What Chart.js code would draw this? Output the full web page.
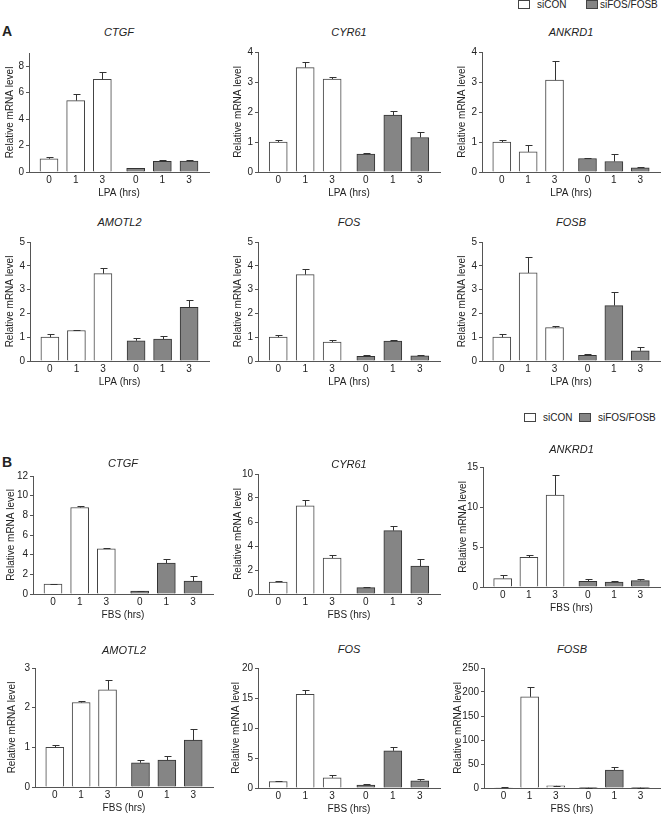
<!DOCTYPE html>
<html>
<head>
<meta charset="utf-8">
<script src="https://cdn.jsdelivr.net/npm/chart.js@4.4.0/dist/chart.umd.min.js"></script>
<style>
  body { margin: 0; background: #fff; }
  #fig { position: relative; width: 665px; height: 814px; font-family: 'Liberation Sans', Arial, sans-serif; color: #222; }
  .box { position: absolute; }
  .title { position: absolute; font-style: italic; font-size: 11px; transform: translate(-50%, -50%); white-space: nowrap; }
  .letter { position: absolute; font-weight: bold; font-size: 14px; line-height: 16px; }
  .sw { position: absolute; width: 10px; height: 7px; border: 1px solid #444; }
  .lt { position: absolute; font-size: 10px; line-height: 12px; white-space: nowrap; }
</style>
</head>
<body>
<div id="fig">
  <div class="letter" style="left:2px;top:23px;">A</div>
  <div class="letter" style="left:2px;top:454px;">B</div>

  <div class="sw" style="left:518px;top:0px;background:#fff;"></div>
  <div class="lt" style="left:537px;top:-1px;">siCON</div>
  <div class="sw" style="left:586px;top:0px;background:#858585;"></div>
  <div class="lt" style="left:600px;top:-1px;">siFOS/FOSB</div>

  <div class="sw" style="left:524px;top:413px;background:#fff;"></div>
  <div class="lt" style="left:543px;top:412px;">siCON</div>
  <div class="sw" style="left:579px;top:413px;background:#858585;"></div>
  <div class="lt" style="left:598px;top:412px;">siFOS/FOSB</div>
</div>
<script>
// time points, shared by both siRNA groups
const timeLabels = ['0', '1', '3'];
const groupGap = 0.25;

// means: siCON 0/1/3 h, then siFOS/FOSB 0/1/3 h
const lpaCTGF = [1.0, 5.4, 7.0, 0.27, 0.8, 0.82];
const lpaCTGFsd = [0.15, 0.5, 0.6, 0.05, 0.12, 0.1];
const lpaCYR61 = [1.0, 3.48, 3.1, 0.6, 1.9, 1.15];
const lpaCYR61sd = [0.07, 0.18, 0.08, 0.04, 0.13, 0.18];
const lpaANKRD1 = [1.0, 0.67, 3.06, 0.45, 0.35, 0.14];
const lpaANKRD1sd = [0.08, 0.22, 0.64, 0.02, 0.25, 0.04];
const lpaAMOTL2 = [1.0, 1.28, 3.67, 0.85, 0.92, 2.25];
const lpaAMOTL2sd = [0.14, 0.02, 0.24, 0.1, 0.15, 0.31];
const lpaFOS = [1.0, 3.63, 0.8, 0.2, 0.84, 0.22];
const lpaFOSsd = [0.1, 0.24, 0.1, 0.04, 0.05, 0.04];
const lpaFOSB = [1.0, 3.7, 1.4, 0.24, 2.33, 0.43];
const lpaFOSBsd = [0.14, 0.65, 0.08, 0.05, 0.57, 0.15];

const fbsCTGF = [1.0, 8.8, 4.6, 0.3, 3.15, 1.32];
const fbsCTGFsd = [0.02, 0.12, 0.08, 0.05, 0.44, 0.5];
const fbsCYR61 = [1.0, 7.35, 3.0, 0.53, 5.28, 2.32];
const fbsCYR61sd = [0.05, 0.5, 0.22, 0.03, 0.4, 0.6];
const fbsANKRD1 = [1.05, 3.7, 11.5, 0.7, 0.6, 0.8];
const fbsANKRD1sd = [0.45, 0.3, 2.5, 0.35, 0.2, 0.25];
const fbsAMOTL2 = [1.0, 2.13, 2.45, 0.61, 0.68, 1.18];
const fbsAMOTL2sd = [0.07, 0.03, 0.24, 0.06, 0.11, 0.28];
const fbsFOS = [1.05, 15.6, 1.7, 0.5, 6.2, 1.2];
const fbsFOSsd = [0.2, 0.8, 0.5, 0.1, 0.6, 0.3];
const fbsFOSB = [1.0, 190, 4.5, 0.6, 37.5, 0.8];
const fbsFOSBsd = [0.5, 21, 0.5, 0.2, 6.5, 0.2];

// box = plot area [left, right, top, bottom] in page px
const panels = [
  { gene: 'CTGF', mean: lpaCTGF, sd: lpaCTGFsd, xTitle: 'LPA (hrs)', box: [29, 209, 53, 172], yMax: 9, yStep: 2, yOff: 19, ty: 32 },
  { gene: 'CYR61', mean: lpaCYR61, sd: lpaCYR61sd, xTitle: 'LPA (hrs)', box: [258, 440, 52, 172], yMax: 4, yStep: 1, yOff: 20, ty: 32 },
  { gene: 'ANKRD1', mean: lpaANKRD1, sd: lpaANKRD1sd, xTitle: 'LPA (hrs)', box: [482, 660, 52, 172], yMax: 4, yStep: 1, yOff: 20, ty: 32 },
  { gene: 'AMOTL2', mean: lpaAMOTL2, sd: lpaAMOTL2sd, xTitle: 'LPA (hrs)', box: [30, 209, 242, 361], yMax: 5, yStep: 1, yOff: 20, ty: 222 },
  { gene: 'FOS', mean: lpaFOS, sd: lpaFOSsd, xTitle: 'LPA (hrs)', box: [258, 440, 242, 361], yMax: 5, yStep: 1, yOff: 20, ty: 222 },
  { gene: 'FOSB', mean: lpaFOSB, sd: lpaFOSBsd, xTitle: 'LPA (hrs)', box: [482, 660, 242, 361], yMax: 5, yStep: 1, yOff: 20, ty: 222 },
  { gene: 'CTGF', mean: fbsCTGF, sd: fbsCTGFsd, xTitle: 'FBS (hrs)', box: [33, 213, 476, 594], yMax: 12, yStep: 2, yOff: 22, ty: 463 },
  { gene: 'CYR61', mean: fbsCYR61, sd: fbsCYR61sd, xTitle: 'FBS (hrs)', box: [258, 440, 474, 594], yMax: 10, yStep: 2, yOff: 20, ty: 464 },
  { gene: 'ANKRD1', mean: fbsANKRD1, sd: fbsANKRD1sd, xTitle: 'FBS (hrs)', box: [483, 660, 467, 587], yMax: 15, yStep: 5, yOff: 20, ty: 449 },
  { gene: 'AMOTL2', mean: fbsAMOTL2, sd: fbsAMOTL2sd, xTitle: 'FBS (hrs)', box: [35, 213, 668, 787], yMax: 3, yStep: 1, yOff: 23, ty: 650 },
  { gene: 'FOS', mean: fbsFOS, sd: fbsFOSsd, xTitle: 'FBS (hrs)', box: [258, 440, 668, 788], yMax: 20, yStep: 5, yOff: 22, ty: 649 },
  { gene: 'FOSB', mean: fbsFOSB, sd: fbsFOSBsd, xTitle: 'FBS (hrs)', box: [484, 660, 668, 788], yMax: 250, yStep: 50, yOff: 26, ty: 649 }
];

Chart.defaults.font.family = "'Liberation Sans', Arial, sans-serif";
Chart.defaults.font.size = 10;
Chart.defaults.color = '#222';

// upper SD whiskers with a small cap
const errorBars = {
  id: 'errorBars',
  afterDatasetsDraw(chart) {
    const ctx = chart.ctx;
    const yScale = chart.scales.y;
    ctx.save();
    ctx.strokeStyle = '#333';
    ctx.lineWidth = 1;
    chart.data.datasets.forEach((ds, di) => {
      chart.getDatasetMeta(di).data.forEach((bar, i) => {
        const top = Math.round(yScale.getPixelForValue(ds.data[i].y + ds.sd[i])) + 0.5;
        const x = Math.round(bar.x) + 0.5;
        ctx.beginPath();
        ctx.moveTo(x, bar.y);
        ctx.lineTo(x, top);
        ctx.moveTo(x - 3, top);
        ctx.lineTo(x + 4, top);
        ctx.stroke();
      });
    });
    ctx.restore();
  }
};

const xPos = (g, i) => i + g * (timeLabels.length + groupGap);
const tickPos = [0, 1].flatMap(g => timeLabels.map((t, i) => xPos(g, i)));
const tickText = [...timeLabels, ...timeLabels];
const xMin = -0.75;
const xMax = xPos(1, timeLabels.length - 1) + 0.75;

const fig = document.getElementById('fig');
const padTop = 8, padR = 4, xH = 27;

panels.forEach(p => {
  const [L, R, T, B] = p.box;
  const W = p.yOff + 6;

  const div = document.createElement('div');
  div.className = 'box';
  div.style.left = (L - W) + 'px';
  div.style.top = (T - padTop) + 'px';
  div.style.width = (W + R - L + padR) + 'px';
  div.style.height = (padTop + B - T + xH + 1) + 'px';
  const canvas = document.createElement('canvas');
  div.appendChild(canvas);
  fig.appendChild(div);

  const t = document.createElement('div');
  t.className = 'title';
  t.textContent = p.gene;
  t.style.left = ((L + R) / 2) + 'px';
  t.style.top = p.ty + 'px';
  fig.appendChild(t);

  new Chart(canvas, {
    type: 'bar',
    data: {
      datasets: [
        {
          label: 'siCON',
          data: timeLabels.map((lab, i) => ({ x: xPos(0, i), y: p.mean[i] })),
          sd: p.sd.slice(0, 3),
          backgroundColor: '#ffffff',
          borderColor: '#444',
          borderWidth: 1,
          barThickness: 18,
          grouped: false
        },
        {
          label: 'siFOS/FOSB',
          data: timeLabels.map((lab, i) => ({ x: xPos(1, i), y: p.mean[i + 3] })),
          sd: p.sd.slice(3),
          backgroundColor: '#858585',
          borderColor: '#333',
          borderWidth: 1,
          barThickness: 18,
          grouped: false
        }
      ]
    },
    options: {
      responsive: true,
      maintainAspectRatio: false,
      animation: false,
      layout: { padding: { top: padTop, right: padR, bottom: 1, left: 0 } },
      plugins: { legend: { display: false }, tooltip: { enabled: false } },
      scales: {
        x: {
          type: 'linear',
          min: xMin,
          max: xMax,
          offset: false,
          grid: { display: false, drawTicks: false },
          border: { display: true, color: '#555', width: 1 },
          afterBuildTicks: s => { s.ticks = tickPos.map(v => ({ value: v })); },
          ticks: { padding: 2, autoSkip: false, maxRotation: 0, callback: (v, i) => tickText[i] },
          title: { display: true, text: p.xTitle, padding: 0 },
          afterFit: s => { s.height = xH; }
        },
        y: {
          min: 0,
          max: p.yMax,
          grid: { display: true, drawOnChartArea: false, drawTicks: true, tickLength: 3, color: '#555' },
          border: { display: true, color: '#555', width: 1 },
          ticks: { stepSize: p.yStep, includeBounds: false, padding: 2 },
          title: { display: true, text: 'Relative mRNA level', padding: 0 },
          afterFit: s => { s.width = W; }
        }
      }
    },
    plugins: [errorBars]
  });
});
</script>
</body>
</html>
